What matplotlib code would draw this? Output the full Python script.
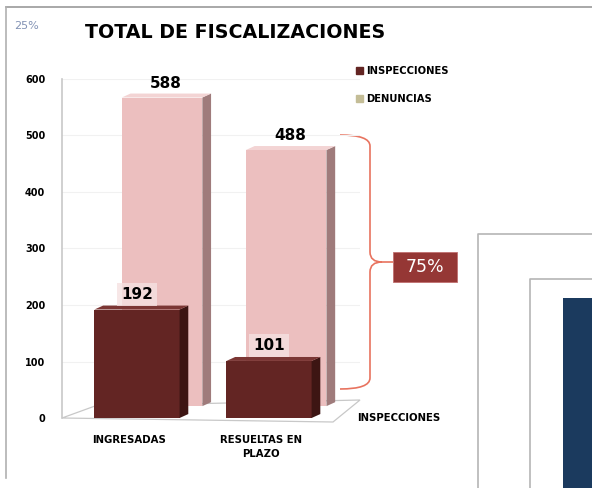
import matplotlib
matplotlib.use("Agg")
import matplotlib.pyplot as plt
import numpy as np
from matplotlib.patches import Patch, Rectangle, PathPatch
from matplotlib.path import Path

# ---- data -------------------------------------------------------------
CATEGORIES = ["INGRESADAS", "RESUELTAS EN\nPLAZO"]
INSPECCIONES = [192, 101]
DENUNCIAS = [588, 488]
Y_TICKS = [0, 100, 200, 300, 400, 500, 600]
RATIO_LABEL = "75%"

# ---- style ------------------------------------------------------------
MAROON = "#632523"
MAROON_SIDE = "#3d1513"
MAROON_TOP = "#7b3634"
PINK = "#ecbfbf"
PINK_SIDE = "#9f7b7b"
PINK_TOP = "#f3d4d4"
BEIGE = "#c4bd97"
BRACE = "#e8735f"
BOX = "#953735"
NAVY = "#1b3a5e"
BOLD = dict(fontweight="bold", family="DejaVu Sans")

FRONT_X = np.array([0.0, 1.0])
BACK_X = np.array([0.19, 1.13])
FRONT_W = 0.645
BACK_W = 0.61
BACK_BASE = 21.0        # back row sits higher (perspective)
BACK_SCALE = 0.929      # and is drawn slightly smaller
DX, DY = 0.066, 7.0     # depth offset of side / top faces


def bar3d(ax, xs, heights, width, bottom, front, side, top, z):
    ax.bar(xs, heights, width=width, bottom=bottom, color=front,
           linewidth=0, zorder=z)
    for x, h in zip(xs, heights):
        r = x + width / 2
        l = x - width / 2
        t = bottom + h
        ax.fill([r, r + DX, r + DX, r], [bottom, bottom + DY, t + DY, t],
                color=side, linewidth=0, zorder=z)
        ax.fill([l, l + DX, r + DX, r], [t, t + DY, t + DY, t],
                color=top, linewidth=0, zorder=z)


fig = plt.figure(figsize=(5.92, 4.88), dpi=100)

# overlay in pixel coordinates for the decorations
ov = fig.add_axes([0, 0, 1, 1])
ov.set_xlim(0, 592)
ov.set_ylim(488, 0)
ov.axis("off")

# page border and the partial neighbouring chart
ov.plot([6, 592], [7, 7], color="#9a9a9a", lw=1.2)
ov.plot([6, 6], [7, 478], color="#b0b0b0", lw=1.2)
ov.plot([478, 478, 592], [488, 234, 234], color="#b5b5b5", lw=1.2)
ov.plot([530, 530, 592], [488, 279, 279], color="#b5b5b5", lw=1.2)
ov.add_patch(Rectangle((563, 298), 40, 200, color=NAVY, lw=0))

# floor of the 3d plot
ov.fill([62, 333, 360, 95], [418, 422, 400, 406], facecolor="white",
        edgecolor="#c8c8c8", lw=0.9, zorder=0)

ov.text(14, 26, "25%", fontsize=8, color="#8292b4", va="center")
ov.text(85, 32, "TOTAL DE FISCALIZACIONES", fontsize=13.7, va="center",
        **BOLD)

# brace + ratio box
verts = [(340, 135), (370, 135), (370, 146), (370, 252), (370, 262),
         (382, 262), (393, 262), (382, 262), (370, 262), (370, 272),
         (370, 378), (370, 389), (340, 389)]
codes = [Path.MOVETO, Path.CURVE3, Path.CURVE3, Path.LINETO, Path.CURVE3,
         Path.CURVE3, Path.LINETO, Path.MOVETO, Path.CURVE3, Path.CURVE3,
         Path.LINETO, Path.CURVE3, Path.CURVE3]
ov.add_patch(PathPatch(Path(verts, codes), facecolor="none",
                       edgecolor=BRACE, lw=1.2))
ov.add_patch(Rectangle((393, 252), 64, 30, facecolor=BOX,
                       edgecolor="#c07070", lw=0.6))
ov.text(425, 267.5, RATIO_LABEL, color="white", fontsize=12.5,
        ha="center", va="center", family="DejaVu Sans")

ov.text(357, 418, "INSPECCIONES", fontsize=7.3, va="center", **BOLD)

# ---- main chart -------------------------------------------------------
ax = fig.add_axes([62 / 592, 70 / 488, 298 / 592, 339 / 488])
ax.patch.set_alpha(0)
ax.set_xlim(-0.568, 1.689)
ax.set_ylim(0, 600)

for t in Y_TICKS[1:]:
    ax.axhline(t, color="#f1f1f1", lw=0.8, zorder=0)

back_h = np.array(DENUNCIAS) * BACK_SCALE
bar3d(ax, BACK_X, back_h, BACK_W, BACK_BASE, PINK, PINK_SIDE, PINK_TOP, 2)
bar3d(ax, FRONT_X, INSPECCIONES, FRONT_W, 0, MAROON, MAROON_SIDE,
      MAROON_TOP, 4)

for x, v, h in zip(BACK_X, DENUNCIAS, back_h):
    ax.text(x + 0.03, BACK_BASE + h + 25, str(v), ha="center", va="center",
            fontsize=11, zorder=6, **BOLD)
for x, v in zip(FRONT_X, INSPECCIONES):
    ax.text(x, v + 27, str(v), ha="center", va="center", fontsize=11,
            zorder=6, bbox=dict(boxstyle="square,pad=0.25", fc="#f6e2e2",
                                ec="none", alpha=0.8), **BOLD)

ax.set_yticks(Y_TICKS)
ax.set_yticklabels([str(t) for t in Y_TICKS], fontsize=7, **BOLD)
ax.set_xticks(FRONT_X - 0.06)
ax.set_xticklabels(CATEGORIES, fontsize=7.3, linespacing=1.5, **BOLD)
ax.tick_params(axis="y", length=0, pad=12)
ax.tick_params(axis="x", length=0, pad=12)
for s in ["top", "right", "bottom"]:
    ax.spines[s].set_visible(False)
ax.spines["left"].set_color("#c8c8c8")
ax.spines["left"].set_linewidth(1.2)

handles = [Patch(color=MAROON, label="INSPECCIONES"),
           Patch(color=BEIGE, label="DENUNCIAS")]
leg = fig.legend(handles=handles, loc="upper left",
                 bbox_to_anchor=(347 / 592, 1 - 57 / 488), frameon=False,
                 handlelength=0.7, handleheight=0.7, handletextpad=0.35,
                 labelspacing=1.75, prop=dict(size=7.2, weight="bold",
                                              family="DejaVu Sans"))

fig.savefig("out.png", dpi=100)
